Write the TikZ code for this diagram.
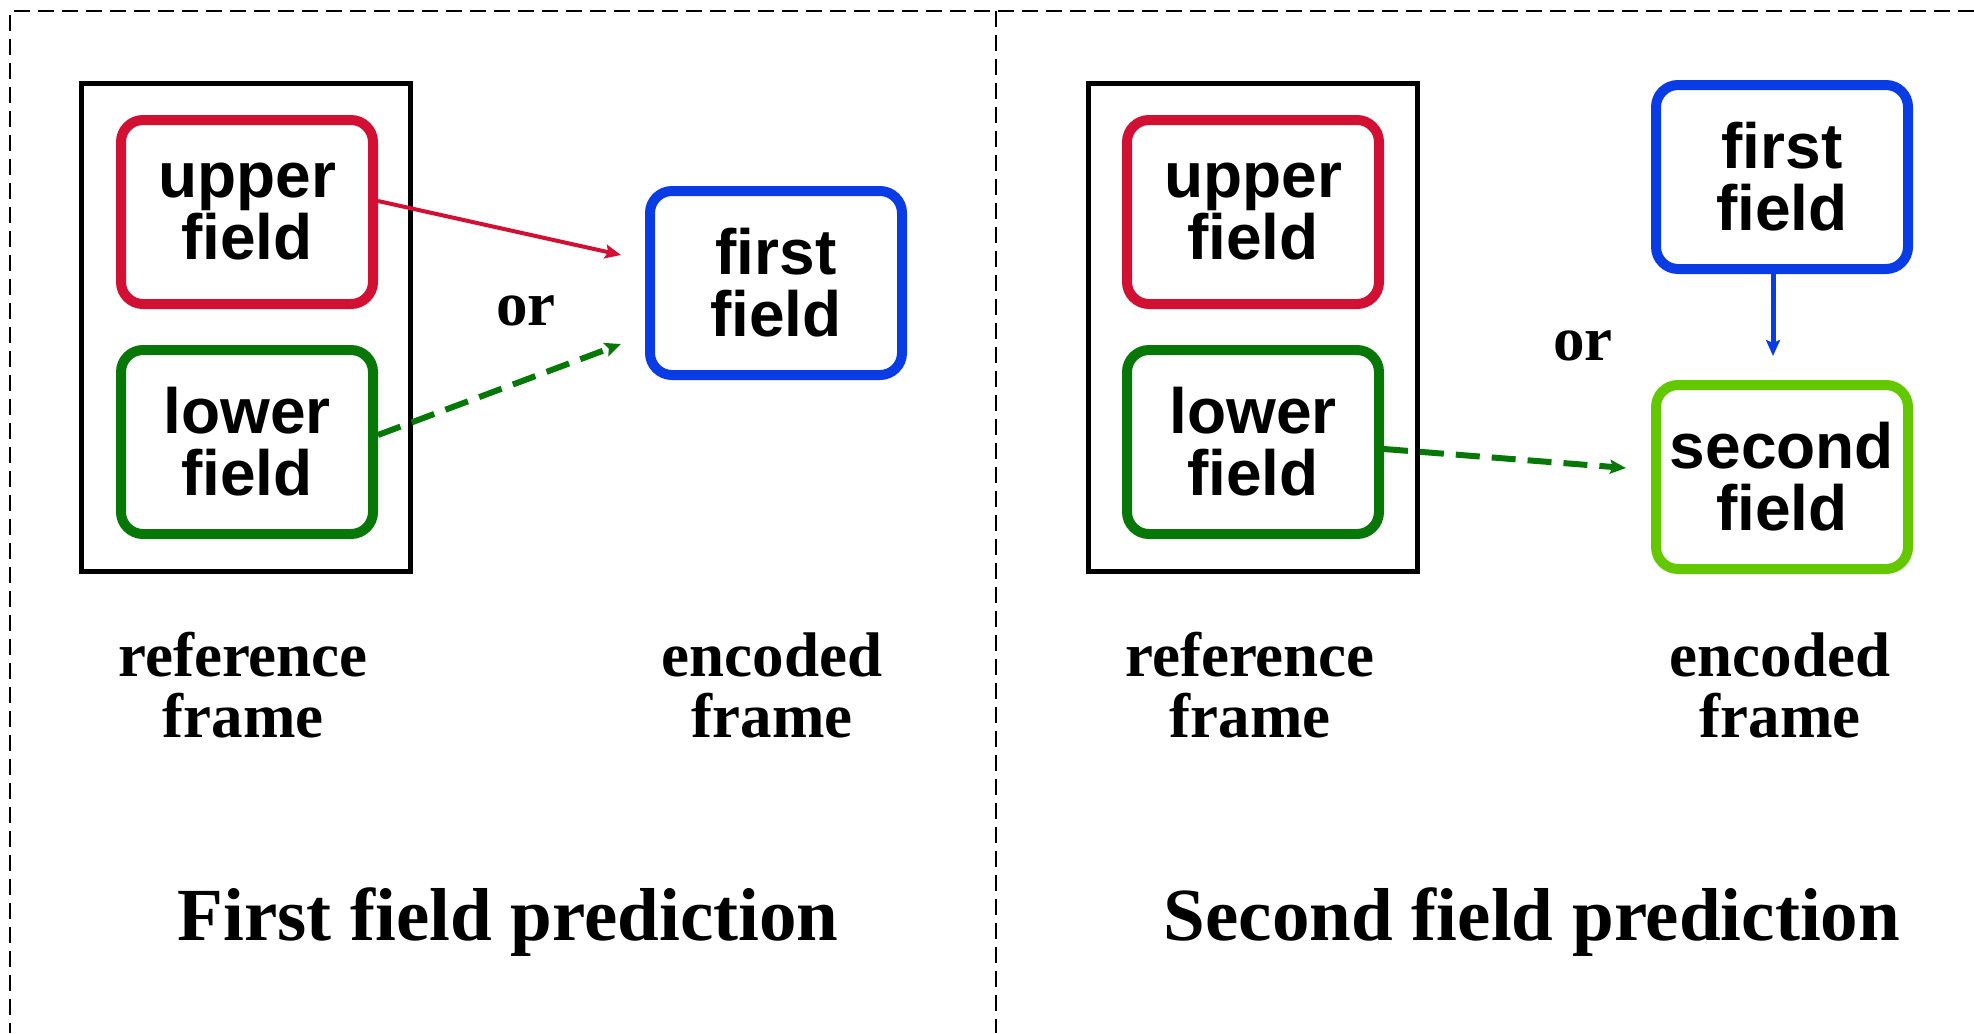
\documentclass[tikz,border=0pt]{standalone}
\usepackage{fontspec}
\setmainfont{Liberation Serif}
\setsansfont{Liberation Sans}
\usetikzlibrary{arrows.meta,calc}
\definecolor{fred}{HTML}{D11034}
\definecolor{fgreen}{HTML}{077807}
\definecolor{fblue}{HTML}{0A3CE6}
\definecolor{flight}{HTML}{64C800}
\tikzset{
  fieldbox/.style={draw, line width=5pt, rounded corners=11pt, minimum width=126pt, minimum height=92pt, inner sep=0pt, align=center, font=\sffamily\bfseries\fontsize{32}{31}\selectfont},
  framebox/.style={draw, line width=2.5pt, inner sep=0pt, minimum width=164.5pt, minimum height=244pt},
  lbl/.style={font=\bfseries\fontsize{31.5}{30.5}\selectfont, align=center, inner sep=0pt},
  ortext/.style={font=\bfseries\fontsize{31.5}{30.5}\selectfont, inner sep=0pt, anchor=base},
  ttl/.style={font=\bfseries\fontsize{37.5}{40}\selectfont, inner sep=0pt, anchor=base},
  arr/.style={-{Stealth[length=8pt,width=7pt,inset=1.5pt]}},
  border/.style={line width=1.2pt, dash pattern=on 8pt off 4pt}
}
\begin{document}
\begin{tikzpicture}[x=0.5pt,y=-0.5pt]
\useasboundingbox (0,0) rectangle (1974,1033);
% dashed panel borders
\coordinate (tl) at (10,11);
\coordinate (tr) at (1974,11);
\coordinate (bl) at (10,1033);
\coordinate (tm) at (996,11);
\coordinate (bm) at (996,1033);
\draw[border] (tr) -- (tl) -- (bl);
\draw[border] (tm) -- (bm);

% ---------- left panel ----------
\node[framebox] (lframe) at (246,327.5) {};
\node[fieldbox, draw=fred] (lup) at (247,212) {upper\\field};
\node[fieldbox, draw=fgreen] (llow) at (247,442) {lower\\field};
\node[fieldbox, draw=fblue] (lfirst) at (776,283) {first\\field};
\draw[arr, fred, line width=2pt] ([yshift=5.5pt]lup.east) -- ([xshift=-12pt,yshift=14pt]lfirst.west);
\draw[arr, fgreen, line width=3pt, dash pattern=on 12pt off 6pt] ([yshift=3.5pt]llow.east) -- ([xshift=-12pt,yshift=-30.5pt]lfirst.west);
\node[ortext] (lor) at (526,325) {or};
\node[lbl] (lref) at (243,685) {reference\\frame};
\node[lbl] (lenc) at (772,685) {encoded\\frame};
\node[ttl] (ltitle) at (508,940) {First field prediction};

% ---------- right panel ----------
\node[framebox] (rframe) at (1252.5,327.5) {};
\node[fieldbox, draw=fred] (rup) at (1253,212) {upper\\field};
\node[fieldbox, draw=fgreen] (rlow) at (1253,442) {lower\\field};
\node[fieldbox, draw=fblue] (rfirst) at (1782,177) {first\\field};
\node[fieldbox, draw=flight] (rsecond) at (1782,477) {second\\field};
\draw[arr, fblue, line width=2.5pt] ([xshift=-4.5pt]rfirst.south) -- ([xshift=-4.5pt,yshift=12pt]rsecond.north);
\draw[arr, fgreen, line width=3pt, dash pattern=on 12pt off 6pt] ([yshift=-3.5pt]rlow.east) -- ([xshift=-12.5pt,yshift=4.5pt]rsecond.west);
\node[ortext] (ror) at (1583,360) {or};
\node[lbl] (rref) at (1250,685) {reference\\frame};
\node[lbl] (renc) at (1780,685) {encoded\\frame};
\node[ttl] (rtitle) at (1532,940) {Second field prediction};
\end{tikzpicture}
\end{document}
